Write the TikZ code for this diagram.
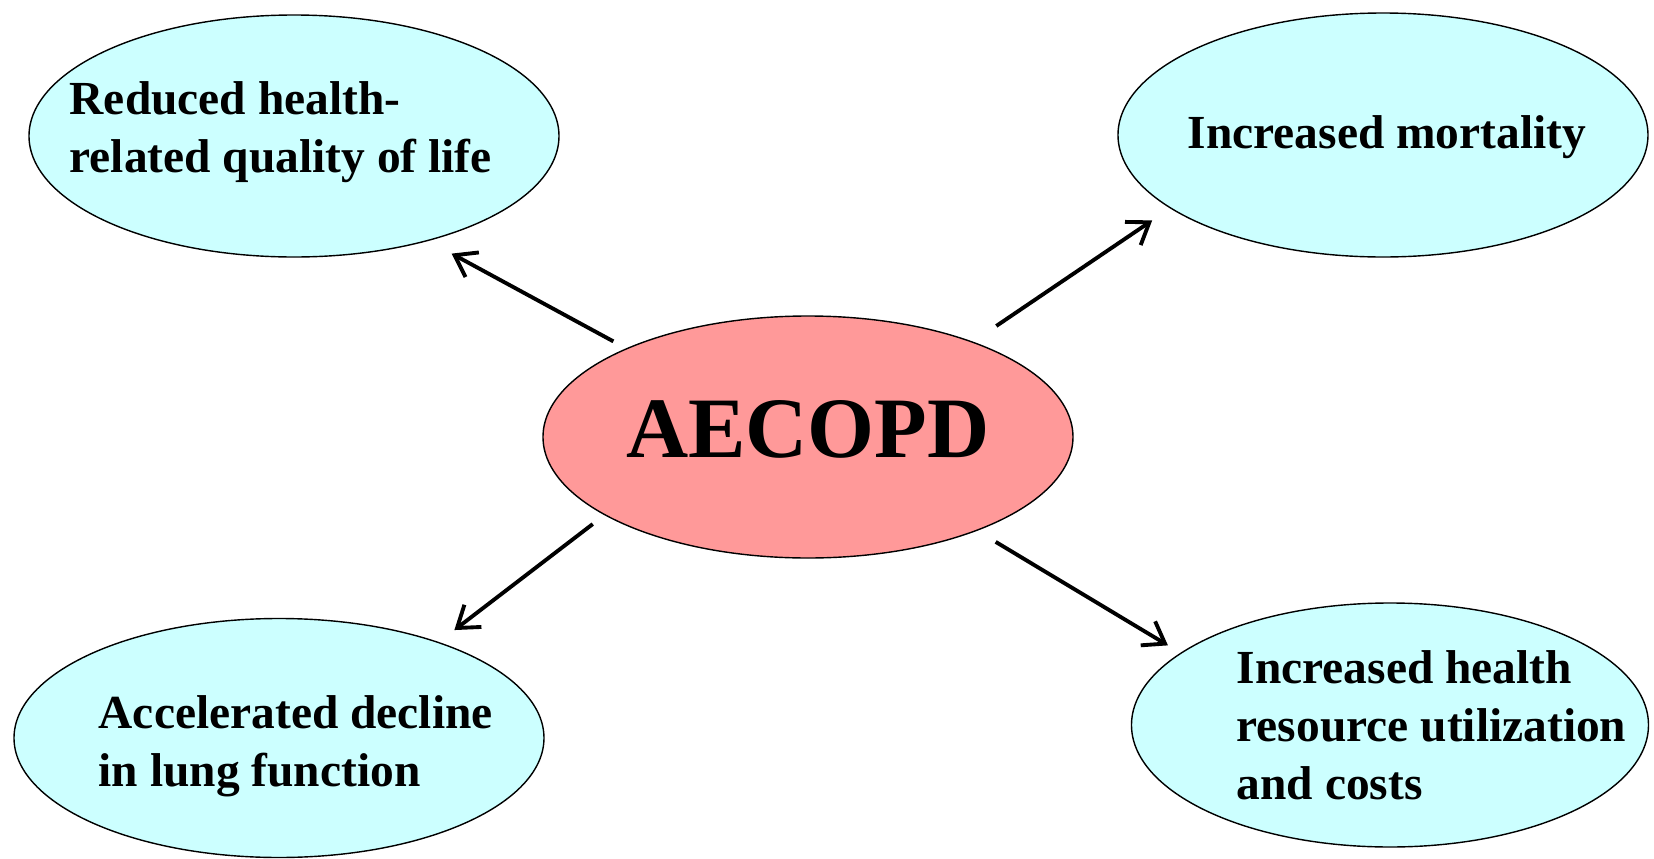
\documentclass[tikz,border=0pt]{standalone}
\usepackage{fontspec}
\setmainfont{Liberation Serif}
\usepackage{tikz}
\usetikzlibrary{shapes.geometric,arrows.meta}
\definecolor{bubblecyan}{RGB}{204,255,255}
\definecolor{corepink}{RGB}{255,153,153}

\begin{document}
\begin{tikzpicture}[x=0.1mm,y=-0.1mm,
    bubble/.style={ellipse,draw=black,line width=0.4pt,fill=bubblecyan,
      minimum width=53mm,minimum height=24.2mm,inner sep=0pt},
    txt/.style={align=left,inner sep=0pt,anchor=base west,
      font=\fontsize{13.5}{16.5}\selectfont\bfseries},
    arr/.style={-{Straight Barb[length=2mm,width=2.8mm]},line width=1.1pt}]
  \useasboundingbox (0,0) rectangle (1654,859);
  \node[bubble,fill=corepink,text depth=1.6mm,font=\fontsize{24.5}{28}\selectfont\bfseries] (core) at (808,437) {AECOPD};
  \node[bubble] (qol) at (294,136) {};
  \node[bubble,minimum height=24.4mm] (mort) at (1383,135) {};
  \node[bubble,minimum height=23.9mm] (lung) at (279,738) {};
  \node[bubble,minimum width=51.7mm,minimum height=24.4mm] (cost) at (1390,725) {};
  \node[txt] (qoltxt) at (69,172) {Reduced health-\\related quality of life};
  \node[txt] (morttxt) at (1187,148) {Increased mortality};
  \node[txt] (lungtxt) at (98,786) {Accelerated decline\\in lung function};
  \node[txt] (costtxt) at (1236,799) {Increased health\\resource utilization\\and costs};
  \draw[arr,shorten <=1.45mm,shorten >=2.65mm] (core.154.6) -- (qol.-38.3);
  \draw[arr,shorten <=2.8mm,shorten >=2.15mm] (core.30.9) -- (mort.199.5);
  \draw[arr,shorten <=1.46mm,shorten >=1.96mm] (core.201.8) -- (lung.31.7);
  \draw[arr,shorten <=2.15mm,shorten >=1.45mm] (core.-29.3) -- (cost.161.9);
\end{tikzpicture}
\end{document}
